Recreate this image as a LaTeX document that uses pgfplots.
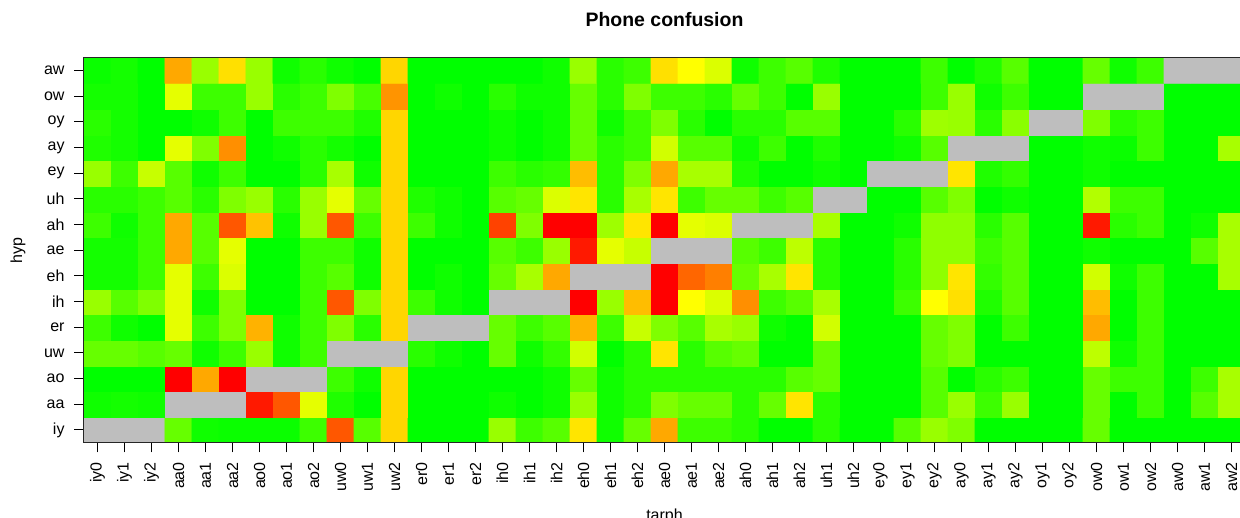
\documentclass[border=0pt]{standalone}
\usepackage{fontspec}
\setmainfont{Liberation Sans}
\usepackage{pgfplots}
\usepackage{pgfplotstable}
\pgfplotsset{compat=1.18}

% confusion values, one heatmap row (hyp) per source line, from iy (bottom) to aw (top);
% columns in tarph order iy0 ... aw2; -1 = no value (grey)
\pgfplotstableread[row sep=\\]{
c\\
-1\\ -1\\ -1\\ 20\\ 3\\ 2\\ 2\\ 2\\ 12\\ 83\\ 17\\ 58\\ 0\\ 0\\ 0\\ 30\\ 12\\ 17\\ 55\\ 3\\ 20\\ 67\\ 12\\ 12\\ 8\\ 0\\ 0\\ 8\\ 0\\ 0\\ 17\\ 30\\ 25\\ 0\\ 0\\ 0\\ 0\\ 20\\ 0\\ 0\\ 0\\ 0\\ 0\\
3\\ 4\\ 3\\ -1\\ -1\\ -1\\ 95\\ 83\\ 45\\ 6\\ 0\\ 58\\ 0\\ 0\\ 0\\ 3\\ 0\\ 3\\ 30\\ 3\\ 8\\ 25\\ 20\\ 20\\ 8\\ 20\\ 55\\ 8\\ 0\\ 0\\ 0\\ 17\\ 30\\ 12\\ 30\\ 0\\ 0\\ 20\\ 0\\ 12\\ 0\\ 17\\ 33\\
0\\ 0\\ 0\\ 100\\ 67\\ 100\\ -1\\ -1\\ -1\\ 12\\ 3\\ 58\\ 0\\ 0\\ 0\\ 0\\ 0\\ 3\\ 20\\ 3\\ 8\\ 8\\ 8\\ 8\\ 8\\ 8\\ 17\\ 20\\ 0\\ 0\\ 0\\ 17\\ 0\\ 8\\ 12\\ 0\\ 0\\ 20\\ 12\\ 12\\ 0\\ 12\\ 33\\
20\\ 20\\ 17\\ 20\\ 3\\ 12\\ 30\\ 3\\ 12\\ -1\\ -1\\ -1\\ 8\\ 3\\ 0\\ 20\\ 3\\ 10\\ 41\\ 0\\ 8\\ 55\\ 8\\ 17\\ 20\\ 0\\ 0\\ 20\\ 0\\ 0\\ 0\\ 20\\ 25\\ 0\\ 0\\ 0\\ 0\\ 37\\ 3\\ 12\\ 0\\ 0\\ 0\\
12\\ 3\\ 0\\ 45\\ 12\\ 25\\ 65\\ 3\\ 12\\ 25\\ 8\\ 58\\ -1\\ -1\\ -1\\ 20\\ 12\\ 17\\ 65\\ 12\\ 39\\ 25\\ 17\\ 33\\ 30\\ 3\\ 0\\ 41\\ 0\\ 0\\ 0\\ 20\\ 25\\ 0\\ 12\\ 0\\ 0\\ 67\\ 0\\ 12\\ 0\\ 0\\ 0\\
30\\ 17\\ 25\\ 45\\ 3\\ 25\\ 0\\ 0\\ 12\\ 83\\ 25\\ 58\\ 12\\ 3\\ 0\\ -1\\ -1\\ -1\\ 100\\ 30\\ 63\\ 100\\ 50\\ 43\\ 72\\ 12\\ 17\\ 33\\ 0\\ 0\\ 12\\ 50\\ 56\\ 6\\ 17\\ 0\\ 0\\ 63\\ 0\\ 12\\ 0\\ 0\\ 0\\
4\\ 4\\ 12\\ 45\\ 12\\ 43\\ 0\\ 0\\ 12\\ 17\\ 3\\ 58\\ 0\\ 3\\ 0\\ 20\\ 33\\ 67\\ -1\\ -1\\ -1\\ 100\\ 80\\ 75\\ 20\\ 33\\ 55\\ 8\\ 0\\ 0\\ 8\\ 28\\ 55\\ 10\\ 17\\ 0\\ 0\\ 41\\ 3\\ 12\\ 0\\ 0\\ 33\\
4\\ 4\\ 12\\ 67\\ 17\\ 45\\ 0\\ 0\\ 12\\ 12\\ 3\\ 58\\ 0\\ 0\\ 0\\ 17\\ 12\\ 30\\ 95\\ 45\\ 39\\ -1\\ -1\\ -1\\ 17\\ 12\\ 37\\ 8\\ 0\\ 0\\ 8\\ 28\\ 28\\ 12\\ 17\\ 0\\ 0\\ 3\\ 0\\ 0\\ 0\\ 17\\ 33\\
12\\ 3\\ 12\\ 67\\ 17\\ 83\\ 62\\ 3\\ 30\\ 83\\ 12\\ 58\\ 12\\ 3\\ 0\\ 87\\ 25\\ 100\\ 100\\ 31\\ 55\\ 100\\ 45\\ 43\\ -1\\ -1\\ -1\\ 33\\ 0\\ 0\\ 3\\ 28\\ 28\\ 8\\ 17\\ 0\\ 0\\ 95\\ 8\\ 12\\ 0\\ 3\\ 33\\
8\\ 8\\ 12\\ 17\\ 8\\ 25\\ 30\\ 8\\ 30\\ 45\\ 20\\ 58\\ 6\\ 3\\ 0\\ 17\\ 20\\ 43\\ 55\\ 8\\ 33\\ 55\\ 12\\ 20\\ 20\\ 12\\ 17\\ -1\\ -1\\ 0\\ 0\\ 17\\ 25\\ 0\\ 3\\ 0\\ 0\\ 35\\ 12\\ 12\\ 0\\ 0\\ 0\\
30\\ 12\\ 39\\ 17\\ 3\\ 12\\ 0\\ 0\\ 8\\ 33\\ 3\\ 58\\ 0\\ 0\\ 0\\ 12\\ 8\\ 10\\ 63\\ 8\\ 25\\ 67\\ 33\\ 33\\ 6\\ 0\\ 0\\ 3\\ 0\\ -1\\ -1\\ -1\\ 55\\ 6\\ 10\\ 0\\ 0\\ 3\\ 0\\ 0\\ 0\\ 0\\ 0\\
6\\ 4\\ 0\\ 45\\ 25\\ 72\\ 0\\ 3\\ 8\\ 4\\ 0\\ 58\\ 0\\ 0\\ 0\\ 3\\ 0\\ 3\\ 20\\ 8\\ 12\\ 41\\ 17\\ 17\\ 3\\ 12\\ 0\\ 6\\ 0\\ 0\\ 3\\ 17\\ -1\\ -1\\ -1\\ 0\\ 0\\ 3\\ 2\\ 12\\ 0\\ 0\\ 33\\
8\\ 4\\ 0\\ 0\\ 3\\ 12\\ 0\\ 12\\ 12\\ 12\\ 6\\ 58\\ 0\\ 0\\ 0\\ 3\\ 0\\ 3\\ 20\\ 3\\ 12\\ 25\\ 8\\ 0\\ 8\\ 8\\ 17\\ 17\\ 0\\ 0\\ 8\\ 31\\ 30\\ 8\\ 27\\ -1\\ -1\\ 25\\ 8\\ 12\\ 0\\ 0\\ 0\\
4\\ 4\\ 0\\ 45\\ 12\\ 12\\ 30\\ 8\\ 12\\ 25\\ 14\\ 71\\ 0\\ 3\\ 0\\ 8\\ 3\\ 3\\ 20\\ 8\\ 25\\ 12\\ 12\\ 8\\ 20\\ 12\\ 0\\ 30\\ 0\\ 0\\ 0\\ 12\\ 30\\ 3\\ 12\\ 0\\ 0\\ -1\\ -1\\ -1\\ 0\\ 0\\ 0\\
2\\ 4\\ 0\\ 67\\ 30\\ 56\\ 30\\ 3\\ 8\\ 3\\ 0\\ 58\\ 0\\ 0\\ 0\\ 0\\ 0\\ 3\\ 30\\ 8\\ 12\\ 56\\ 50\\ 43\\ 3\\ 12\\ 17\\ 6\\ 0\\ 0\\ 0\\ 12\\ 0\\ 6\\ 17\\ 0\\ 0\\ 20\\ 3\\ 12\\ -1\\ -1\\ -1\\
}\confusion

\begin{document}
\begin{tikzpicture}
\begin{axis}[
  at={(0,0)}, anchor=south west,
  scale only axis,
  width=870.75pt, height=288.75pt,
  xmin=-0.5, xmax=42.5, ymin=-0.5, ymax=14.5,
  enlargelimits=false,
  axis on top,
  colormap={phone}{rgb255(0)=(190,190,190) rgb255(0.5)=(190,190,190) rgb255(1)=(0,255,0) rgb255(51)=(255,255,0) rgb255(101)=(255,0,0)},
  point meta min=-1, point meta max=100,
  xtick={0,...,42},
  xticklabels={iy0,iy1,iy2,aa0,aa1,aa2,ao0,ao1,ao2,uw0,uw1,uw2,er0,er1,er2,ih0,ih1,ih2,eh0,eh1,eh2,ae0,ae1,ae2,ah0,ah1,ah2,uh1,uh2,ey0,ey1,ey2,ay0,ay1,ay2,oy1,oy2,ow0,ow1,ow2,aw0,aw1,aw2},
  ytick={0,...,14},
  yticklabels={iy,aa,ao,uw,er,ih,eh,ae,ah,uh,ey,ay,oy,ow,aw},
  tick pos=left,
  tick align=outside,
  major tick length=7.2pt,
  major tick style={black, line width=0.75pt},
  axis line style={black!85, line width=0.75pt},
  tick label style={font=\fontsize{12}{14}\selectfont, inner sep=0pt},
  xticklabel shift=7.2pt,
  yticklabel shift=7.2pt,
  xticklabel style={rotate=90, anchor=east},
  yticklabel style={anchor=east},
  title={Phone confusion},
  title style={at={(axis description cs:0.5,1)}, anchor=base, yshift=17.25pt, font=\bfseries\fontsize{14.6}{17}\selectfont},
  xlabel={tarph},
  xlabel style={at={(axis description cs:0.5,0)}, anchor=base, yshift=-58pt, font=\fontsize{12}{14}\selectfont},
  ylabel={hyp},
  ylabel style={at={(axis description cs:0,0.5)}, anchor=center, yshift=49.5pt, font=\fontsize{12}{14}\selectfont},
]
\addplot[matrix plot*, mesh/cols=43, point meta=explicit]
  table[x index=0, y index=0, meta index=0,
        x expr={mod(\coordindex,43)}, y expr={floor((\coordindex+0.5)/43)}] {\confusion};
\end{axis}
\pgfresetboundingbox
\useasboundingbox (-63pt,-55.7pt) rectangle (867pt,332.1pt);
\end{tikzpicture}
\end{document}
